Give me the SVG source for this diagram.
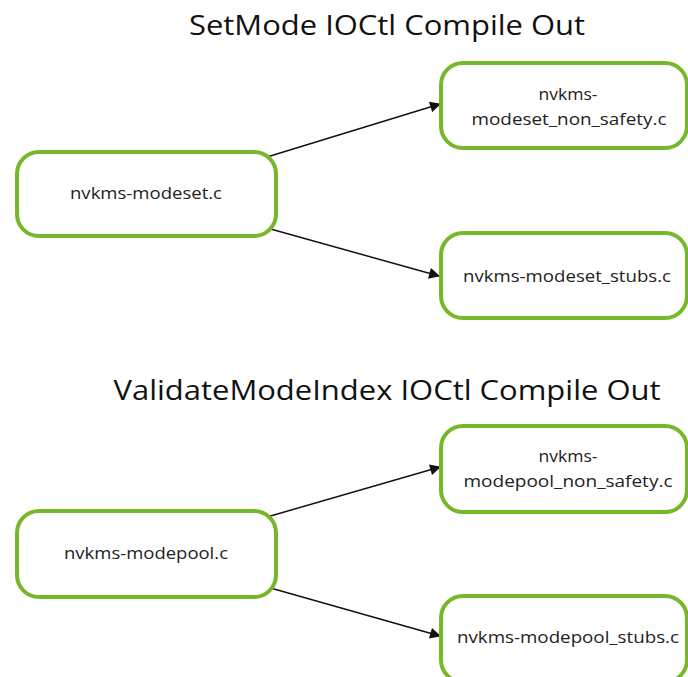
<svg xmlns="http://www.w3.org/2000/svg" width="688" height="677" viewBox="0 0 688 677">
<defs>
<style>
.node rect{fill:#fff;stroke:#76b82a;stroke-width:4}
.lbl{font-family:"Open Sans","Noto Sans",sans-serif;font-size:17px;fill:#222;text-anchor:middle}
.title{font-family:"Open Sans","Noto Sans",sans-serif;font-size:27px;fill:#111;text-anchor:middle}
.edge{stroke:#111;stroke-width:1.5;fill:none;marker-end:url(#arr)}
</style>
<marker id="arr" viewBox="0 0 10 10" refX="9" refY="5" markerWidth="12" markerHeight="11" orient="auto" markerUnits="userSpaceOnUse">
<path d="M0,0 L10,5 L0,10 z" fill="#111"/>
</marker>
</defs>
<rect width="688" height="677" fill="#fff"/>
<text class="title" x="387" y="35" textLength="396" lengthAdjust="spacingAndGlyphs">SetMode IOCtl Compile Out</text>
<text class="title" x="387" y="400" textLength="547" lengthAdjust="spacingAndGlyphs">ValidateModeIndex IOCtl Compile Out</text>
<g id="edges">
<line class="edge" x1="267" y1="157" x2="440" y2="104"/>
<line class="edge" x1="267" y1="228" x2="439" y2="276"/>
<line class="edge" x1="267" y1="517" x2="440" y2="467"/>
<line class="edge" x1="267" y1="587" x2="440" y2="636"/>
</g>
<g id="n1" class="node"><rect x="17" y="152" width="259" height="84" rx="22"/><text class="lbl" x="146" y="199" textLength="152" lengthAdjust="spacingAndGlyphs">nvkms-modeset.c</text></g>
<g id="n2" class="node"><rect x="441" y="63" width="246" height="85" rx="22"/><text class="lbl" x="568" y="100" textLength="59" lengthAdjust="spacingAndGlyphs">nvkms-</text><text class="lbl" x="569" y="125" textLength="195" lengthAdjust="spacingAndGlyphs">modeset_non_safety.c</text></g>
<g id="n3" class="node"><rect x="441" y="233" width="246" height="85" rx="22"/><text class="lbl" x="567" y="282" textLength="208" lengthAdjust="spacingAndGlyphs">nvkms-modeset_stubs.c</text></g>
<g id="n4" class="node"><rect x="17" y="511" width="259" height="86" rx="22"/><text class="lbl" x="146" y="559" textLength="164" lengthAdjust="spacingAndGlyphs">nvkms-modepool.c</text></g>
<g id="n5" class="node"><rect x="441" y="426" width="246" height="86" rx="22"/><text class="lbl" x="568" y="462" textLength="59" lengthAdjust="spacingAndGlyphs">nvkms-</text><text class="lbl" x="568" y="487" textLength="209" lengthAdjust="spacingAndGlyphs">modepool_non_safety.c</text></g>
<g id="n6" class="node"><rect x="441" y="596" width="246" height="86" rx="22"/><text class="lbl" x="568" y="643" textLength="222" lengthAdjust="spacingAndGlyphs">nvkms-modepool_stubs.c</text></g>
</svg>
